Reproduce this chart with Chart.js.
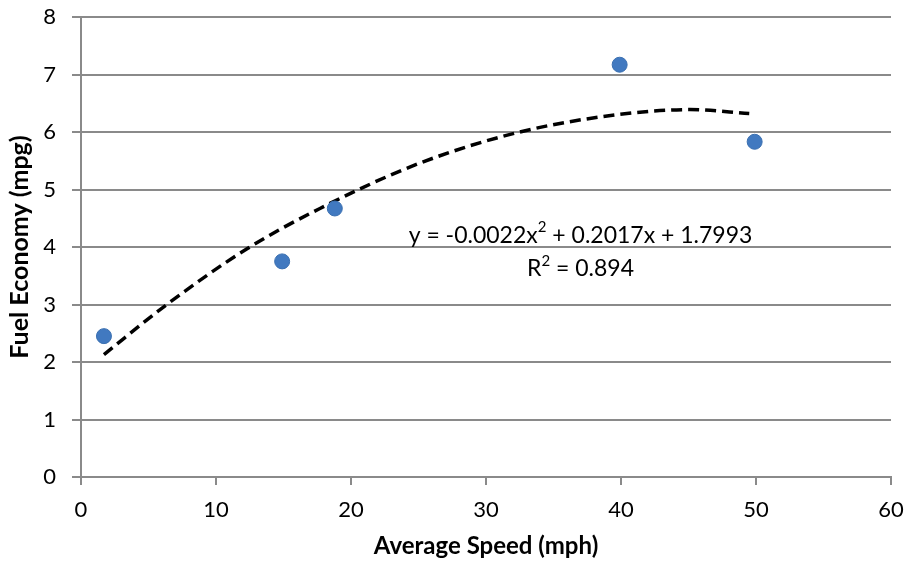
<!DOCTYPE html>
<html>
<head>
<meta charset="utf-8">
<script src="https://cdn.jsdelivr.net/npm/chart.js@4"></script>
<style>
  html, body { margin: 0; padding: 0; background: #fff; }
  canvas { display: block; }
</style>
</head>
<body>
<canvas id="fuelChart" width="906" height="565"></canvas>
<script>
// -------------------------
//      DATA
// -------------------------

const speedMph = [1.7, 14.9, 18.8, 39.9, 49.9];
const fuelMpg = [2.45, 3.75, 4.67, 7.17, 5.83];

// trendline
const trendSpeed = [1.7, 6.3, 12.3, 17.7, 25, 32.5, 39.7, 45.1, 49.5];
const trendMpg = [2.13, 2.99, 3.97, 4.67, 5.45, 6.0, 6.30, 6.39, 6.32];

const xTicks = [0, 10, 20, 30, 40, 50, 60];
const yTicks = [0, 1, 2, 3, 4, 5, 6, 7, 8];

// equation pieces: [text, superscript?]
const equationParts = [["y = -0.0022x", false], ["2", true], [" + 0.2017x + 1.7993", false]];
const rSquaredParts = [["R", false], ["2", true], [" = 0.894", false]];

// -------------------------

const FONT = "Lato, 'Open Sans', sans-serif";
const GRID = "#8a8a8a";

function drawParts(ctx, parts, cx, cy) {
    const widthOf = ([t, sup]) => {
        ctx.font = (sup ? "15px " : "23px ") + FONT;
        return ctx.measureText(t).width;
    };
    const total = parts.reduce((sum, p) => sum + widthOf(p), 0);
    let x = cx - total / 2;
    for (const p of parts) {
        const w = widthOf(p);
        ctx.fillText(p[0], x, p[1] ? cy - 8 : cy);
        x += w;
    }
}

const equationLabel = {
    id: "equationLabel",
    afterDatasetsDraw(chart) {
        const { ctx, scales } = chart;
        const cx = scales.x.getPixelForValue(37);
        ctx.save();
        ctx.fillStyle = "#000";
        ctx.textAlign = "left";
        ctx.textBaseline = "middle";
        drawParts(ctx, equationParts, cx, scales.y.getPixelForValue(4.2));
        drawParts(ctx, rSquaredParts, cx, scales.y.getPixelForValue(3.62));
        ctx.restore();
    }
};

const ctx = document.getElementById("fuelChart").getContext("2d");

new Chart(ctx, {
    type: "scatter",
    data: {
        datasets: [
            {
                label: "Trend",
                data: trendSpeed.map((x, i) => ({ x, y: trendMpg[i] })),
                showLine: true,
                borderColor: "#000",
                borderWidth: 3.5,
                borderDash: [11, 6],
                cubicInterpolationMode: "monotone",
                pointRadius: 0,
                order: 2
            },
            {
                label: "Fuel Economy",
                data: speedMph.map((x, i) => ({ x, y: fuelMpg[i] })),
                backgroundColor: "#4179c0",
                borderColor: "#3a6fb0",
                borderWidth: 1,
                pointRadius: 7.5,
                order: 1
            }
        ]
    },
    options: {
        responsive: false,
        animation: false,
        layout: { padding: { top: 17, right: 15, left: 0, bottom: 0 } },
        plugins: {
            legend: { display: false },
            tooltip: { enabled: false }
        },
        scales: {
            x: {
                type: "linear",
                min: 0,
                max: 60,
                afterBuildTicks: (s) => { s.ticks = xTicks.map(v => ({ value: v })); },
                afterFit: (s) => { s.height = 88; s.paddingLeft = 0; s.paddingRight = 0; },
                grid: { drawOnChartArea: false, drawTicks: true, tickLength: 8, color: GRID, lineWidth: 2 },
                border: { color: GRID, width: 2 },
                ticks: { color: "#000", font: { family: FONT, size: 22 }, padding: 12, maxRotation: 0 },
                title: { display: true, text: "Average Speed (mph)", color: "#000", font: { family: FONT, size: 24, weight: "bold" }, padding: { top: 1 } }
            },
            y: {
                min: 0,
                max: 8,
                afterBuildTicks: (s) => { s.ticks = yTicks.map(v => ({ value: v })); },
                afterFit: (s) => { s.width = 81; s.paddingTop = 0; s.paddingBottom = 0; },
                grid: { color: GRID, lineWidth: 2, tickLength: 9 },
                border: { color: GRID, width: 2 },
                ticks: { color: "#000", font: { family: FONT, size: 22 }, padding: 16 },
                title: { display: true, text: "Fuel Economy (mpg)", color: "#000", font: { family: FONT, size: 25, weight: "bold" }, padding: { top: 5, bottom: 0 } }
            }
        }
    },
    plugins: [equationLabel]
});
</script>
</body>
</html>
